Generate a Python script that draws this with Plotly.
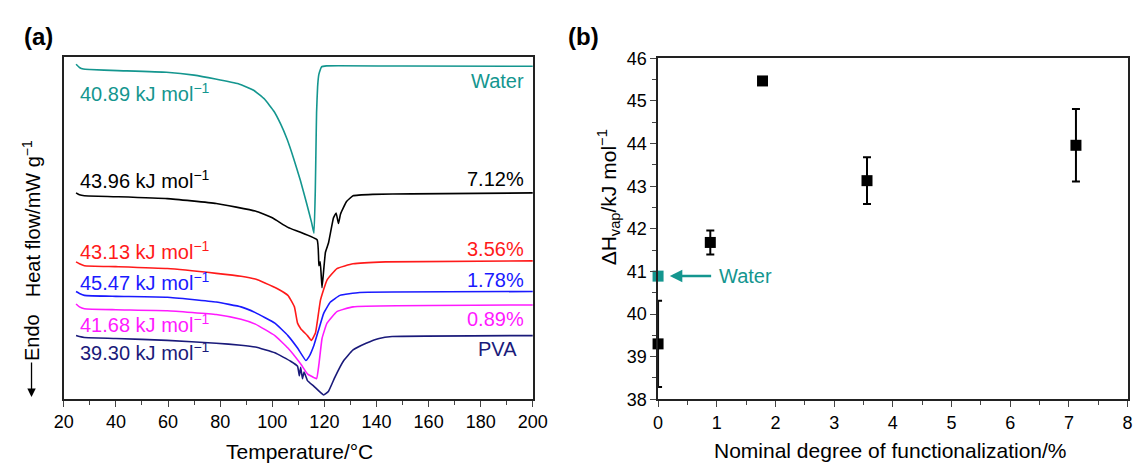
import plotly.graph_objects as go

W, H = 1147, 472
FONT = "Liberation Sans, Arial, sans-serif"
TEAL = "#14968f"

# ---------------- Panel (a) DSC curves (heat flow, arbitrary offset units) ----------------
water_T = [24.7, 26.0, 27.5, 30, 40.7, 59.4, 70, 78.2, 87, 93, 97, 100.7, 103.2, 105.7, 108.2, 110.8, 113.2, 115.1, 116.0,
           116.5, 116.8, 117.0, 117.4, 117.9, 118.9, 120.8, 150, 200]
water_y = [349.3, 346, 344.3, 343.8, 342.7, 341, 338, 334, 329, 322, 313, 300, 287, 271, 251, 228, 204, 184, 173,
           216, 266, 299, 326, 339, 346.7, 347.7, 347.5, 347.3]

b712_T = [24.7, 26.0, 27.9, 40, 59.7, 78.5, 93.5, 100, 106, 117.2, 117.9, 118.4, 118.8, 119.1, 120.4, 121.6, 123.5, 124.5,
          125.4, 126.2, 128.5, 131, 138.5, 153.5, 200]
b712_y = [215, 213, 212, 211, 209, 204, 196, 189, 179, 166, 139, 143, 128, 116, 153, 163, 189, 194, 183, 193, 206, 212,
          213.5, 214, 215]

r356_T = [24.7, 26.0, 27.9, 40, 59.7, 78.5, 88, 93.5, 97.2, 102, 106, 108.5, 109.7, 111, 113.5, 115, 116.6, 118.5, 121,
          124.8, 131, 143.5, 200]
r356_y = [143, 141, 139, 138, 136, 131, 128, 125, 121, 115, 108, 96, 79, 73, 66, 61, 69, 103, 124, 136, 141, 143, 144]

b178_T = [24.7, 26.0, 27.9, 40, 59.7, 78.5, 88, 93.5, 101, 106, 109.7, 112.9, 114.1, 116, 117.9, 119.7, 122.3, 126, 133.5,
          200]
b178_y = [112, 110, 108, 107, 106, 101, 96, 90, 79, 66, 53, 40, 44, 56, 73, 89, 101, 108, 111, 112]

m089_T = [24.7, 26.0, 27.9, 40, 59.7, 78.5, 88, 93.5, 101, 106, 111, 113.5, 115.4, 117, 117.9, 119.1, 121, 124.8, 131, 200]
m089_y = [99, 96, 94, 93, 92, 88, 83, 78, 66, 53, 36, 26, 23, 21, 36, 63, 79, 91, 96, 98]

pva_T = [24.7, 26.0, 27.9, 40, 59.7, 78.5, 88, 93.5, 101, 107.2, 109.7, 110.4, 110.9, 111.6, 112.2, 113.5, 116, 119.7,
         121.6, 124.1, 127.2, 131, 136, 141, 146, 200]
pva_y = [66, 65, 64, 63, 61, 58, 56, 54, 48, 39, 34, 24, 33, 21, 28, 19, 13, 4, 8, 23, 39, 51, 58, 63, 65, 66]

curve_names = ["Water", "7.12%", "3.56%", "1.78%", "0.89%", "PVA"]
curve_enthalpy = ["40.89", "43.96", "43.13", "45.47", "41.68", "39.30"]
curve_colors = [TEAL, "#000000", "#ff1a1a", "#1a1aff", "#ff1aff", "#1a1a7a"]
curves_T = [water_T, b712_T, r356_T, b178_T, m089_T, pva_T]
curves_y = [water_y, b712_y, r356_y, b178_y, m089_y, pva_y]
left_label_y = [320, 229, 155, 122, 79, 49]
right_label_y = [332, 230, 156, 124, 83, 52]
right_label_x = [197.5, 197.5, 197.5, 197.5, 197.5, 194.5]

# ---------------- Panel (b) enthalpy vs functionalization ----------------
deg = [0, 0.89, 1.78, 3.56, 7.12]
dH = [39.30, 41.68, 45.47, 43.13, 43.96]
dH_err = [1.01, 0.28, 0.0, 0.55, 0.85]
water_deg = [0]
water_dH = [40.89]

fig = go.Figure()

for T, y, c, n in zip(curves_T, curves_y, curve_colors, curve_names):
    fig.add_trace(go.Scatter(x=T, y=y, mode="lines", line=dict(color=c, width=1.6, shape="spline", smoothing=0.35),
                             name=n, xaxis="x", yaxis="y", showlegend=False, hoverinfo="skip"))

fig.add_trace(go.Scatter(x=deg, y=dH, mode="markers", xaxis="x2", yaxis="y2", showlegend=False, cliponaxis=False,
                         marker=dict(symbol="square", size=11, color="black"),
                         error_y=dict(type="data", array=dH_err, visible=True, color="black", thickness=2, width=4)))
fig.add_trace(go.Scatter(x=water_deg, y=water_dH, mode="markers", xaxis="x2", yaxis="y2", showlegend=False,
                         cliponaxis=False, marker=dict(symbol="square", size=11, color=TEAL)))

ax_common = dict(showline=True, linecolor="#222", linewidth=1.5, mirror=True, zeroline=False, showgrid=False,
                 tickfont=dict(family=FONT, size=18, color="black"))

fig.update_layout(
    width=W, height=H, margin=dict(l=0, r=0, t=0, b=0),
    paper_bgcolor="white", plot_bgcolor="white",
    font=dict(family=FONT, color="black"),
    xaxis=dict(domain=[55 / W, 534.5 / W], anchor="y", range=[20, 200], tickmode="array",
               tickvals=list(range(20, 201, 20)), ticks="outside", ticklen=6, tickwidth=1.2,
               minor=dict(tickvals=list(range(30, 200, 20)), ticks="outside", ticklen=4, tickwidth=1.2),
               **ax_common),
    yaxis=dict(domain=[(H - 406) / H, (H - 49) / H], anchor="x", range=[0, 357], showticklabels=False,
               ticks="", **ax_common),
    xaxis2=dict(domain=[662.5 / W, 1142.5 / W], anchor="y2", range=[0, 8], tickvals=list(range(0, 9)),
                ticks="outside", ticklen=6, tickwidth=1.2,
                minor=dict(tickvals=[i + 0.5 for i in range(8)], ticks="outside", ticklen=4, tickwidth=1.2),
                **ax_common),
    yaxis2=dict(domain=[(H - 406.5) / H, (H - 50.5) / H], anchor="x2", range=[38, 46], tickvals=list(range(38, 47)),
                ticks="outside", ticklen=6, tickwidth=1.2,
                minor=dict(tickvals=[38.5 + i for i in range(8)], ticks="outside", ticklen=4, tickwidth=1.2),
                **ax_common),
)

ann = []
for e, n, c, ly, ry, rx in zip(curve_enthalpy, curve_names, curve_colors, left_label_y, right_label_y, right_label_x):
    ann.append(dict(x=25.5, y=ly, xref="x", yref="y", text=f"{e} kJ mol<sup>−1</sup>", showarrow=False,
                    xanchor="left", yanchor="middle", font=dict(family=FONT, size=20, color=c)))
    ann.append(dict(x=rx, y=ry, xref="x", yref="y", text=n, showarrow=False,
                    xanchor="right", yanchor="middle", font=dict(family=FONT, size=20, color=c)))

ann += [
    dict(x=12 / W, y=1 - 28 / H, xref="paper", yref="paper", text="<b>(a)</b>", showarrow=False,
         xanchor="left", yanchor="middle", font=dict(family=FONT, size=24)),
    dict(x=568 / W, y=1 - 28 / H, xref="paper", yref="paper", text="<b>(b)</b>", showarrow=False,
         xanchor="left", yanchor="middle", font=dict(family=FONT, size=24)),
    dict(x=296 / W, y=1 - 461 / H, xref="paper", yref="paper", text="Temperature/°C", showarrow=False,
         xanchor="center", yanchor="middle", font=dict(family=FONT, size=21)),
    dict(x=900 / W, y=1 - 460 / H, xref="paper", yref="paper", text="Nominal degree of functionalization/%",
         showarrow=False, xanchor="center", yanchor="middle", font=dict(family=FONT, size=21)),
    dict(x=22 / W, y=1 - 218 / H, xref="paper", yref="paper", text="Heat flow/mW g<sup>−1</sup>", showarrow=False,
         textangle=-90, xanchor="center", yanchor="middle", font=dict(family=FONT, size=20)),
    dict(x=22 / W, y=1 - 342 / H, xref="paper", yref="paper", text="Endo", showarrow=False,
         textangle=-90, xanchor="center", yanchor="middle", font=dict(family=FONT, size=20)),
    dict(x=22 / W, y=1 - 404 / H, xref="paper", yref="paper", ax=0, ay=-36, text="", showarrow=True,
         arrowhead=2, arrowsize=1.3, arrowwidth=1.3, arrowcolor="black"),
    dict(x=612 / W, y=1 - 196 / H, xref="paper", yref="paper", text="ΔH<sub>vap</sub>/kJ mol<sup>−1</sup>",
         showarrow=False, textangle=-90, xanchor="center", yanchor="middle", font=dict(family=FONT, size=21)),
    dict(x=0.2, y=40.89, ax=0.93, ay=40.89, xref="x2", yref="y2", axref="x2", ayref="y2", text="",
         showarrow=True, arrowhead=2, arrowsize=1, arrowwidth=2.5, arrowcolor=TEAL),
    dict(x=1.0, y=40.89, xref="x2", yref="y2", text="Water", showarrow=False, xanchor="left",
         yanchor="middle", font=dict(family=FONT, size=20, color=TEAL)),
]
fig.update_layout(annotations=ann)

fig.write_html("out.html")
